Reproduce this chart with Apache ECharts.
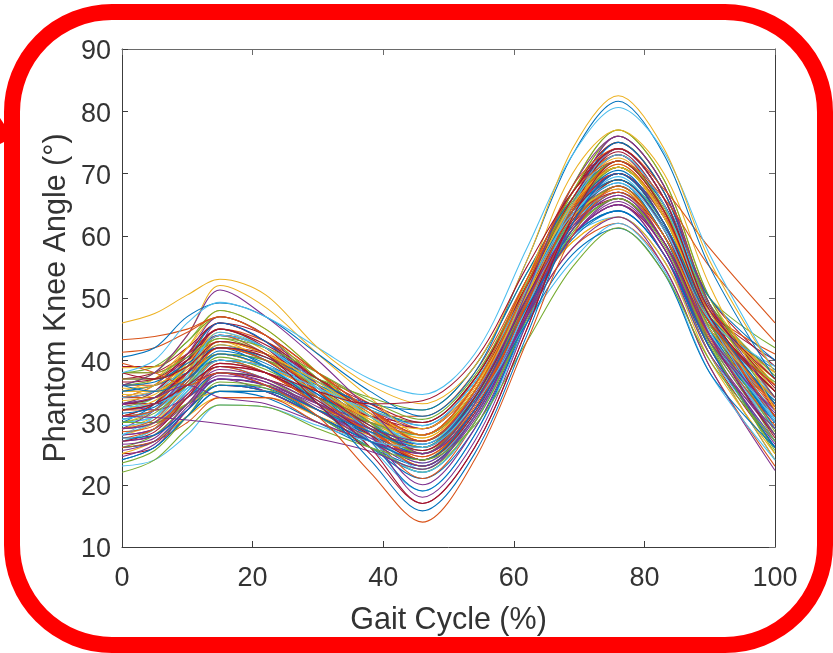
<!DOCTYPE html>
<html><head><meta charset="utf-8">
<style>html,body{margin:0;padding:0;background:#fff}#c{width:833px;height:653px}</style>
<script src="https://cdn.jsdelivr.net/npm/echarts@6/dist/echarts.min.js"></script>
</head><body><div id="c"></div>
<script>
const gaitCycle=[0,5,10,15,22,30,38,46,54,62,69,76,83,90,100];
const palette=['#0072BD','#D95319','#EDB120','#7E2F8E','#77AC30','#4DBEEE','#A2142F'];
const xTicks=[0,20,40,60,80,100];
const yTicks=[10,20,30,40,50,60,70,80,90];
const curves=[
[32,33,38,42,39,33,28,24,32,49,64,71,63,46,30],
[29,30,35,40,38,33,28,25,33,50,63,69,61,44,31],
[35,36,39,43,41,36,31,27,35,51,65,72,64,48,34],
[27,28,33,38,36,32,27,23,31,48,62,68,60,43,28],
[33,35,40,45,42,36,30,26,34,51,66,73,65,47,33],
[31,32,36,39,37,33,29,26,34,50,62,67,59,44,32],
[37,38,41,44,42,37,32,28,36,52,67,74,66,49,36],
[26,27,32,37,36,31,26,22,30,47,61,67,60,42,27],
[34,34,38,41,39,35,30,27,34,50,64,70,62,46,35],
[30,32,38,43,41,35,29,24,32,49,65,72,64,46,29],
[28,29,34,38,36,32,28,25,33,49,61,66,58,43,30],
[36,37,41,46,43,37,31,26,35,52,67,75,67,49,35],
[32,33,37,41,39,34,29,25,33,50,63,69,62,45,33],
[25,26,32,36,35,31,27,24,32,48,60,65,58,41,26],
[33,34,39,44,42,36,30,25,33,51,65,71,63,47,31],
[38,38,41,45,43,38,33,29,37,53,67,73,65,49,37],
[29,31,36,40,38,33,28,23,31,48,63,70,62,45,28],
[35,35,38,42,40,36,32,29,36,51,64,69,61,46,36],
[27,29,35,40,38,33,27,22,30,47,63,71,63,45,27],
[31,32,36,40,38,34,30,27,34,50,62,68,60,44,34],
[34,36,41,46,43,37,30,24,32,50,66,74,66,48,32],
[30,30,34,37,36,32,28,25,33,49,60,64,57,43,31],
[36,36,40,43,41,37,32,28,35,52,66,72,64,48,38],
[28,30,36,42,40,34,28,23,31,48,64,72,64,46,29],
[33,33,37,40,39,35,31,28,36,51,63,68,60,45,33],
[26,28,33,38,37,32,27,24,31,48,62,69,61,43,25],
[32,34,39,44,41,35,29,24,33,50,65,73,65,47,34],
[39,39,42,46,44,38,32,28,36,52,67,75,67,50,39],
[29,30,34,38,37,33,29,26,34,49,61,66,59,44,30],
[31,33,38,42,40,34,28,23,31,49,64,71,63,46,32],
[35,37,42,47,44,37,31,25,34,51,67,76,68,49,35],
[27,28,32,36,35,31,27,24,32,48,60,66,58,42,28],
[33,34,37,41,40,36,32,30,37,52,64,69,62,47,37],
[30,31,35,39,37,33,29,26,33,49,62,67,60,44,29],
[37,37,40,42,41,37,33,30,37,52,65,70,63,48,40],
[24,26,31,36,35,31,26,21,29,46,61,68,60,42,26],
[32,32,36,40,38,33,28,24,32,49,62,68,60,44,31],
[34,36,42,48,45,38,30,24,33,51,68,77,69,50,36],
[28,29,33,37,35,31,27,25,32,48,60,65,57,42,27],
[36,38,43,47,44,37,30,25,34,51,67,76,68,49,33],
[30,31,36,41,39,34,29,26,34,50,63,70,62,45,30],
[33,33,36,39,38,34,31,29,36,51,62,66,59,45,34],
[26,27,31,35,34,30,26,23,31,47,60,64,57,41,24],
[31,33,38,44,41,35,28,21,30,48,64,72,64,46,31],
[35,35,39,43,40,36,31,27,35,51,65,71,63,47,38],
[29,32,38,46,43,36,28,20,29,47,65,74,66,47,30],
[38,39,43,48,45,38,31,26,34,51,68,77,69,50,34],
[27,29,35,41,39,33,26,19,28,46,63,72,64,45,28],
[32,33,36,38,37,34,31,30,37,52,63,67,60,46,35],
[30,33,40,46,43,35,27,19,28,47,65,75,67,47,29],
[34,35,38,41,39,35,31,31,38,53,65,70,63,48,41],
[25,27,31,34,34,31,28,27,34,49,59,63,56,40,25],
[33,35,41,47,44,36,28,18,27,46,65,76,68,47,33],
[37,37,39,41,40,37,34,32,39,54,66,71,64,50,42],
[28,30,33,35,35,32,29,28,35,50,60,63,56,41,27],
[31,33,39,45,42,34,26,17,26,45,64,74,66,46,31],
[35,36,38,40,39,36,33,32,39,54,66,72,65,50,40],
[26,27,30,34,34,30,27,26,33,47,58,62,55,39,23],
[29,30,33,35,35,32,30,29,36,50,59,63,56,41,24],
[33,32,34,37,36,33,30,28,35,51,64,70,63,46,33],
[30,30,33,36,36,32,29,27,34,49,61,66,59,43,28],
[28,31,37,43,41,34,27,22,30,48,63,70,62,44,29],
[34,35,40,44,42,35,29,24,32,49,65,73,64,47,35],
[30.5,32,37,42.5,40,34.5,29,25.5,33,49.5,64,70.5,62,45,30],
[27.5,29,34.5,39.5,38,33,28.5,24.5,32,48,62,67.5,59,44,33],
[34.5,35,39.5,44.5,41.5,35.5,30.5,26,33.5,50.5,66,72.5,64,48,36],
[26.5,27.5,33,37.5,36.5,32.5,28.5,26.5,33.5,48.5,60,65.5,58,43,32],
[32.5,34,39,43.5,41,35.5,29.5,25,33,50,64,71,63,46,28.5],
[29.5,30.5,35.5,41,39,33.5,28,23.5,31.5,48.5,63,69.5,61,44.5,30.5],
[36.5,37,40.5,45,42.5,37,31.5,27,35,51.5,66,73.5,65,48.5,35.5],
[31.5,32.5,36.5,41.5,39.5,34.5,29.5,26.5,34,50,63,68.5,60,45,33.5],
[28.5,29.5,34,39,37,33,28.5,25.5,33,49,61.5,67,59,43.5,29.5],
[33.5,34.5,38.5,42.5,40.5,36,31,27.5,35,51,64.5,71.5,63,46.5,32.5],
[25.5,27,32.5,37,36,32,27.5,23.5,31,47.5,61,66.5,59,42,26.5],
[30,31.5,36,40.5,38.5,34,30,28,35,50.5,62.5,68,60,45.5,36.5],
[34,35,39,44,42,36.5,31,26.5,34.5,51,65.5,74,66,48,30.5],
[27,28.5,34,39.5,38,33.5,28,24,31.5,48,62.5,69,61,44,27.5],
[36,36.5,39.5,42,40.5,36.5,32.5,29.5,36.5,51.5,64,69,61.5,47,38.5],
[29,30.5,36.5,42,40,34,28.5,24.5,32.5,49.5,64.5,72,64,46.5,31],
[32,33.5,37.5,41,39,35,30.5,27.5,35,50.5,63,67.5,60,45,34],
[24.5,26.5,32,38,36.5,32,27,23,30.5,47.5,62,70,62,44,28],
[38,38,40.5,43.5,42,38,33.5,30.5,37.5,52.5,65.5,72,64.5,49,37.5],
[30.5,32,37.5,44.5,42,35.5,28.5,22.5,31,48.5,65,73,65,46.5,30],
[33,34,38,42,40.5,35,29.5,25.5,34,50,63.5,70,62,46,36],
[27.5,28,32,36,35.5,32,28.5,26,33.5,48.5,59.5,64,57,42,26],
[31,32,37,43,41,35,29,24,32,49,64,71.5,63.5,47,32.5],
[35.5,36,39,43,41,36.5,31.5,28,35.5,51.5,65,71,63,47.5,37],
[29,30,34.5,38.5,37,33,29,27,34.5,50,61.5,66.5,59,44,31.5],
[23.5,25.5,31,36.5,35.5,31,26,22.5,30,46.5,60.5,66,58.5,42.5,25.5],
[32.5,33,35.5,40,39,35.5,32,29.5,36.5,51.5,63.5,68.5,61,46.5,39]
];
const outliers=[
[33,34,36,34,33,30,27,25,32,47,58,63,55,39,22.3],
[23,24,28,32.8,32.5,29.5,27,26,33,46,56,62,54.5,38,24],
[24,26,31,35,35,31,27,24,32,46,57,61.2,54,38,26],
[22,24,29,32.8,32.5,29,26,24,29.5,43,55,61.3,54,40,27],
[31,30.8,30.4,29.8,28.8,27.4,25.4,22.5,31,47,60,65,57,41,29],
[39.5,38,36,38,36,31,22,14,24,43,60,68,60,46,36],
[36,35,37,41,39,33,24,15.8,25,44,62,70,62,47,33],
[38,37,39,43,41,33,25,17,26,45,63,72,64,47,35],
[38.8,38.9,44,52,48.5,41,34,28,36,53,70,77,70,52,32],
[36,38,44,51.3,47,40,32,25,33,51,68,76,68,49,34],
[41.3,42,44.5,47,44,38,32,27,35,52,68,74,67.5,58,46],
[43.3,43.8,45,47,44,38,32,28,36,53,67,72,66,55,43],
[40.5,42,47,49.2,47,41,35,31,38,56,73,81.6,73,55,37],
[38,40,46,49.3,47,42,37,34.5,41,58,73,80.6,73.5,57,38],
[46,47.5,50.5,53,50.5,42,36,33,39,56,74,82.5,74,56,38],
[32,33,36,39,38,35,33,33.5,40,55,67,74,66,48,37]
];
const outlierColorIdx=[3,5,0,4,3,1,0,6,2,3,1,1,0,5,2,6];
const makeLine=(curve,color,z)=>({
  type:'line',
  data:gaitCycle.map((g,j)=>[g,curve[j]]),
  smooth:0.33,symbol:'none',silent:true,animation:false,
  lineStyle:{width:1.05,color},
  z
});
const lineSeries=[
  ...curves.map((c,i)=>makeLine(c,palette[i%palette.length],2)),
  ...outliers.map((c,i)=>makeLine(c,palette[outlierColorIdx[i]],2))
];
const inkColor='#3c3c3c', softInk='#6a6a6a', textColor='#333333', labelFont='"Liberation Sans",Arial,sans-serif';
const chart=echarts.init(document.getElementById('c'),null,{renderer:'canvas'});
chart.setOption({
  animation:false,backgroundColor:'#fff',
  grid:{left:122,right:58,top:49,bottom:106,show:true,backgroundColor:'#fff',borderWidth:0},
  xAxis:[{
    type:'value',min:0,max:100,interval:20,position:'bottom',
    name:'Gait Cycle (%)',nameLocation:'middle',nameGap:58,nameMoveOverlap:false,
    nameTextStyle:{fontFamily:labelFont,fontSize:30.5,color:textColor},
    axisLine:{show:true,onZero:false,lineStyle:{color:inkColor,width:1}},
    axisTick:{show:true,inside:true,length:6,lineStyle:{color:inkColor,width:1}},
    axisLabel:{margin:18,fontFamily:labelFont,fontSize:27,color:textColor,hideOverlap:false,showMinLabel:true,showMaxLabel:true,
      alignMinLabel:'center',alignMaxLabel:'center',
      formatter:v=>xTicks.includes(v)?String(v):''},
    splitLine:{show:false}
  },{
    type:'value',min:0,max:100,interval:20,position:'top',
    axisLine:{show:true,onZero:false,lineStyle:{color:softInk,width:1.2}},
    axisTick:{show:true,inside:true,length:6,lineStyle:{color:softInk,width:1}},
    axisLabel:{show:false},splitLine:{show:false}
  }],
  yAxis:[{
    type:'value',min:10,max:90,interval:10,position:'left',
    name:'Phantom Knee Angle (°)',nameLocation:'middle',nameGap:50,nameRotate:90,nameMoveOverlap:false,
    nameTextStyle:{fontFamily:labelFont,fontSize:30.5,color:textColor},
    axisLine:{show:true,onZero:false,lineStyle:{color:inkColor,width:1}},
    axisTick:{show:true,inside:true,length:6,lineStyle:{color:inkColor,width:1}},
    axisLabel:{margin:11,showMinLabel:true,showMaxLabel:true,
      verticalAlign:'middle',verticalAlignMinLabel:'middle',verticalAlignMaxLabel:'middle',
      formatter:v=>yTicks.includes(v)?'{n|'+v+'}':'',
      rich:{n:{fontFamily:labelFont,fontSize:27,color:textColor,padding:[6,0,0,0]}}},
    splitLine:{show:false}
  },{
    type:'value',min:10,max:90,interval:10,position:'right',
    axisLine:{show:true,onZero:false,lineStyle:{color:inkColor,width:1}},
    axisTick:{show:true,inside:true,length:6,lineStyle:{color:softInk,width:1}},
    axisLabel:{show:false},splitLine:{show:false}
  }],
  series:lineSeries,
  graphic:[
    {type:'rect',z:100,shape:{x:12,y:12,width:813,height:633,r:100},silent:true,
     style:{fill:'transparent',stroke:'#FF0000',lineWidth:16}},
    {type:'polygon',z:100,silent:true,shape:{points:[[0,118],[6,127],[6,141],[0,144]]},style:{fill:'#FF0000'}}
  ]
});
</script></body></html>
